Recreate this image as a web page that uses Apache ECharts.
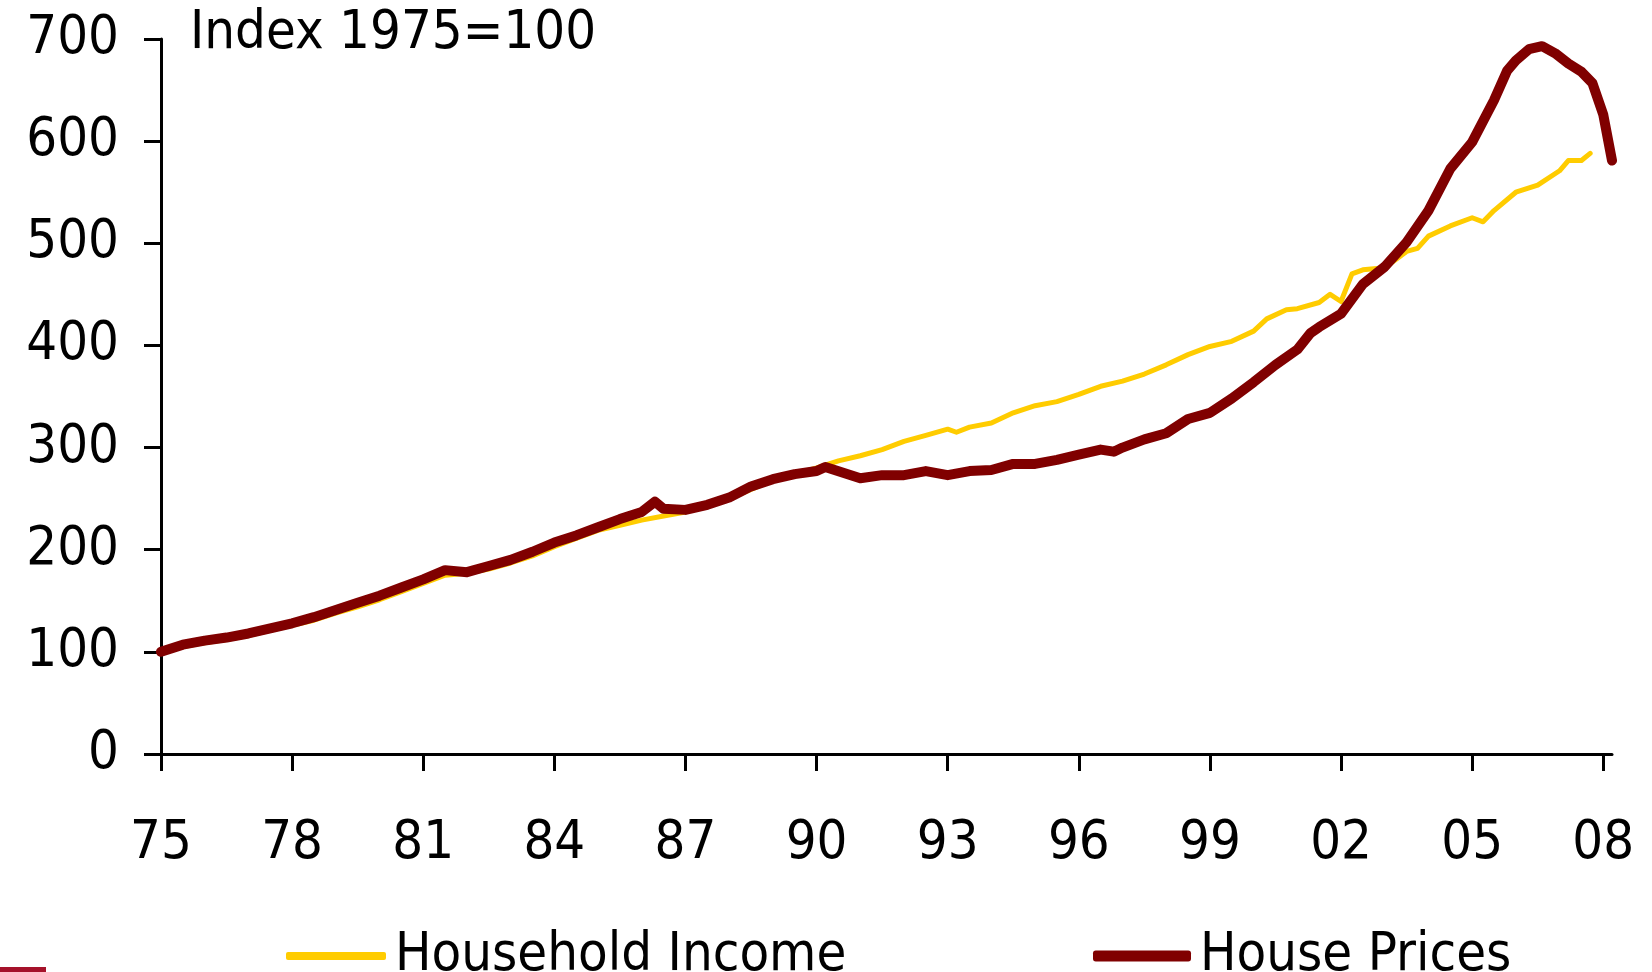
<!DOCTYPE html>
<html>
<head>
<meta charset="utf-8">
<script src="https://cdn.jsdelivr.net/npm/echarts@6/dist/echarts.min.js"></script>
<style>
  html,body{margin:0;padding:0;background:#fff}
  #chart{width:1652px;height:972px}
</style>
</head>
<body>
<div id="chart"></div>
<script>
// 指数, 1975=100  [year, value]
let incomeData = [
  [1975,100],[1975.5,105],[1976,109],[1976.5,112],[1977,116],[1977.5,121],[1978,126],[1978.5,131],
  [1979,138],[1979.5,144],[1980,151],[1980.5,159],[1981,167],[1981.5,175],[1982,177],[1982.5,181],
  [1983,187],[1983.5,194],[1984,203],[1984.5,211],[1985,219],[1985.5,224],[1986,229],[1986.5,233],
  [1987,237],[1987.5,243],[1988,250],[1988.5,259],[1989,268],[1989.5,274],[1990,280],[1990.5,287],
  [1991,292],[1991.5,298],[1992,306],[1992.5,312],[1993,318],[1993.2,315],[1993.5,320],[1994,324],
  [1994.5,334],[1995,341],[1995.5,345],[1996,352],[1996.5,360],[1997,365],[1997.5,372],[1998,381],
  [1998.5,391],[1999,399],[1999.5,404],[2000,414],[2000.3,426],[2000.75,435],[2001,436],[2001.5,442],
  [2001.75,450],[2002,443],[2002.25,470],[2002.5,474],[2003,476],[2003.5,492],[2003.75,495],[2004,507],
  [2004.5,517],[2005,525],[2005.25,521],[2005.5,532],[2006,550],[2006.5,557],[2007,571],[2007.2,581],
  [2007.5,581],[2007.7,588]
]
let priceData = [
  [1975,100],[1975.5,107],[1976,111],[1976.5,114],[1977,118],[1977.5,123],[1978,128],[1978.5,134],
  [1979,141],[1979.5,148],[1980,155],[1980.5,163],[1981,171],[1981.5,180],[1982,178],[1982.5,184],
  [1983,190],[1983.5,198],[1984,207],[1984.5,214],[1985,222],[1985.5,230],[1986,237],[1986.3,247],
  [1986.5,240],[1987,239],[1987.5,244],[1988,251],[1988.5,262],[1989,269],[1989.5,274],[1990,277],
  [1990.2,281],[1991,270],[1991.5,273],[1992,273],[1992.5,277],[1993,273],[1993.5,277],[1994,278],
  [1994.5,284],[1995,284],[1995.5,288],[1996,293],[1996.5,298],[1996.8,296],[1997,300],[1997.5,308],
  [1998,314],[1998.5,328],[1999,334],[1999.5,348],[2000,364],[2000.5,381],[2001,396],[2001.3,412],
  [2001.5,418],[2002,431],[2002.5,460],[2003,477],[2003.5,501],[2004,532],[2004.5,573],[2005,599],
  [2005.5,640],[2005.8,669],[2006,679],[2006.3,690],[2006.6,693],[2006.9,686],[2007.2,676],[2007.5,668],
  [2007.75,657],[2008,626],[2008.2,581]
]
let xTicks = [1975,1978,1981,1984,1987,1990,1993,1996,1999,2002,2005,2008]
let seriesNames = ['Household Income','House Prices']

let font = '"DejaVu Sans Condensed","DejaVu Sans",sans-serif'
let txt = {fontFamily:font,fontSize:54,color:'#000'}

let myChart = echarts.init(document.getElementById('chart'))
let option = {
  animation:false,
  backgroundColor:'#fff',
  title:{text:'Index 1975=100',left:190,top:7,padding:0,textStyle:{...txt,fontWeight:'normal'}},
  grid:{left:161,top:39,right:40,bottom:218,containLabel:false},
  legend:[
    {data:[{name:seriesNames[0],icon:'roundRect'}],left:286,top:929,padding:0,itemWidth:100,itemHeight:8,
     textStyle:{...txt,padding:[0,0,0,4]}},
    {data:[{name:seriesNames[1],icon:'roundRect'}],left:1093,top:929,padding:0,itemWidth:98,itemHeight:11,
     textStyle:{...txt,padding:[0,0,0,4]}}
  ],
  xAxis:{type:'value',min:1975,max:2008.2,
    axisLine:{show:true,onZero:false,lineStyle:{color:'#000',width:3}},
    axisTick:{show:true,length:17,customValues:xTicks,lineStyle:{color:'#000',width:3}},
    axisLabel:{customValues:xTicks,margin:63,...txt,formatter:v=>String(v).slice(2)},
    splitLine:{show:false}},
  yAxis:{type:'value',min:0,max:700,interval:100,
    axisLine:{show:true,lineStyle:{color:'#000',width:3}},
    axisTick:{show:true,length:17,lineStyle:{color:'#000',width:3}},
    axisLabel:{margin:42,padding:[9,0,0,0],...txt},
    splitLine:{show:false}},
  series:[
    {name:seriesNames[0],type:'line',data:incomeData,showSymbol:false,color:'#FFCC00',
     lineStyle:{width:5,color:'#FFCC00',cap:'round',join:'round'},z:2},
    {name:seriesNames[1],type:'line',data:priceData,showSymbol:false,color:'#800000',
     lineStyle:{width:10,color:'#800000',cap:'round',join:'round'},z:3}
  ],
  graphic:[{type:'rect',left:0,top:967,shape:{width:46,height:5},style:{fill:'#a5122a'}}]
}
myChart.setOption(option)
</script>
</body>
</html>
